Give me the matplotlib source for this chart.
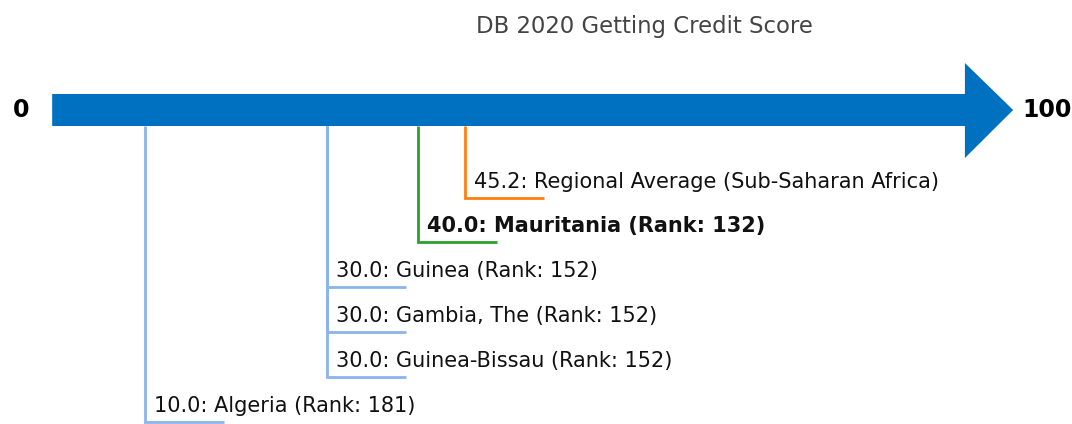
import matplotlib.pyplot as plt
from matplotlib.patches import Polygon

plt.rcParams['font.family'] = ['DejaVu Sans']

# data
names = ["Regional Average (Sub-Saharan Africa)", "Mauritania (Rank: 132)",
         "Guinea (Rank: 152)", "Gambia, The (Rank: 152)",
         "Guinea-Bissau (Rank: 152)", "Algeria (Rank: 181)"]
scores = [45.2, 40.0, 30.0, 30.0, 30.0, 10.0]
colors = ["#ff7f0e", "#2ca02c", "#8ab4ec", "#8ab4ec", "#8ab4ec", "#8ab4ec"]
bold = [False, True, False, False, False, False]

fig = plt.figure(figsize=(10.72, 4.24), dpi=100)
ax = fig.add_axes([0, 0, 1, 1])
ax.set_xlim(-54 / 9.1, (1072 - 54) / 9.1)
ax.set_ylim(424, 0)
ax.axis("off")

# arrow (y in pixel rows from top)
shaft_top, shaft_bot, mid = 94, 126, 110
arrow = Polygon([(-0.2, shaft_top), (100.1, shaft_top), (100.1, 63), (105.4, mid),
                 (100.1, 158), (100.1, shaft_bot), (-0.2, shaft_bot)],
                closed=True, color="#0070c0", lw=0)
ax.add_patch(arrow)

ax.text(-3.6, mid, "0", ha="center", va="center", fontsize=17, fontweight="bold")
ax.text(109.1, mid, "100", ha="center", va="center", fontsize=17, fontweight="bold")
ax.text(64.9, 27, "DB 2020 Getting Credit Score", ha="center", va="center",
        fontsize=16.4, color="#444444")

levels = [198, 242, 287, 332, 377, 422]
for s, n, c, b, lv in zip(scores, names, colors, bold, levels):
    ax.plot([s, s, s + 8.7], [shaft_bot, lv, lv], color=c, lw=2,
            solid_joinstyle="miter", solid_capstyle="butt")
    ax.text(s + 1.0, lv - 10, f"{s:.1f}: {n}", ha="left", va="baseline",
            fontsize=15, fontweight="bold" if b else "normal", color="#111111")

fig.savefig("out.png", dpi=100)
